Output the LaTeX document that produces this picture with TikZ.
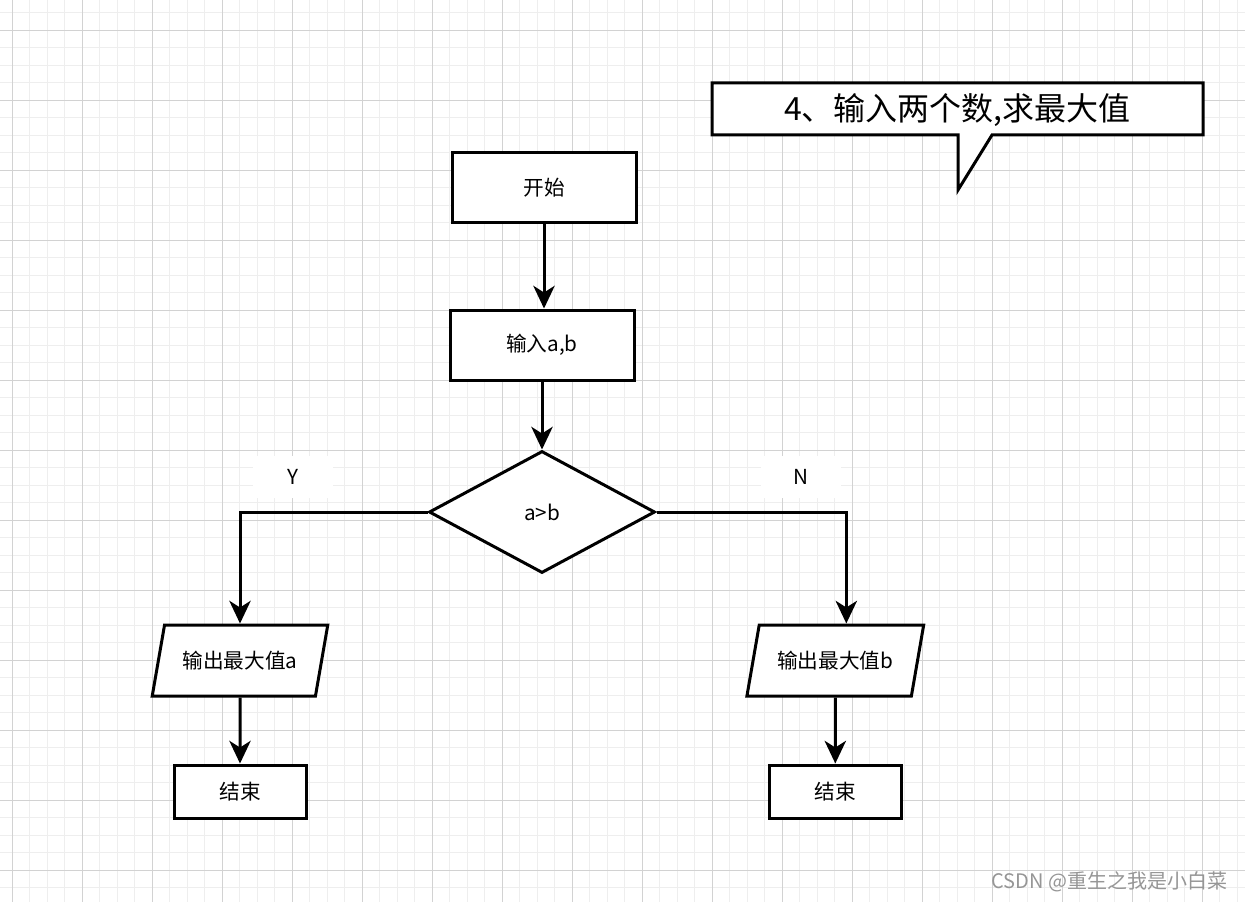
\documentclass[tikz,border=0pt]{standalone}
\usepackage{fontspec}
\setmainfont{Noto Sans CJK SC}
\usetikzlibrary{shapes.geometric,arrows.meta}

\definecolor{gridmajor}{RGB}{210,210,210}
\definecolor{gridminor}{RGB}{238,238,238}
\definecolor{markgray}{RGB}{150,150,150}

\tikzset{
  box/.style={draw, line width=2.25pt, fill=white, inner sep=0pt,
    font=\fontsize{15.5}{18}\selectfont},
  iobox/.style={box, trapezium, trapezium left angle=63.8,
    trapezium right angle=116.2, trapezium stretches=true,
    minimum width=132.75pt, minimum height=53.25pt},
  decide/.style={box, diamond, minimum width=169.5pt, minimum height=91.5pt},
  flow/.style={line width=2.25pt, -{Stealth[length=17pt,width=16pt,inset=5pt]}},
  branch/.style={fill=white, inner sep=0pt, minimum width=60pt, minimum height=32pt,
    font=\fontsize{15.5}{18}\selectfont},
}

\begin{document}
\begin{tikzpicture}[x=0.75pt,y=-0.75pt]
  \useasboundingbox (0,0) rectangle (1245,902);
  \fill[white] (0,0) rectangle (1245,902);

  % grid
  \foreach \i in {0,...,70}
    \draw[gridminor, line width=0.75pt] ({12.3+17.5*\i},0) -- ({12.3+17.5*\i},902);
  \foreach \j in {0,...,50}
    \draw[gridminor, line width=0.75pt] (0,{12.8+17.5*\j}) -- (1245,{12.8+17.5*\j});
  \foreach \i in {0,...,17}
    \draw[gridmajor, line width=0.75pt] ({12.3+70*\i},0) -- ({12.3+70*\i},902);
  \foreach \j in {0,...,12}
    \draw[gridmajor, line width=0.75pt] (0,{30.3+70*\j}) -- (1245,{30.3+70*\j});

  % title callout
  \filldraw[fill=white, line width=2.25pt, line join=miter]
    (712,83) -- (1203,83) -- (1203,135) -- (992,135) -- (958,190)
    -- (958,135) -- (712,135) -- cycle;
  \node[font=\fontsize{24}{28}\selectfont] (title) at (957.5,110) {4、输入两个数,求最大值};

  % flow
  \node[box, minimum width=138pt, minimum height=52.5pt] (start) at (544,188) {开始};
  \node[box, minimum width=138pt, minimum height=52.5pt] (input) at (542,345) {输入a,b};
  \node[decide] (cond) at (542,512) {a>b};
  \node[iobox] (outa) at (240,660.5) {输出最大值a};
  \node[iobox] (outb) at (835.3,660.5) {输出最大值b};
  \node[box, minimum width=99pt, minimum height=39.75pt] (enda) at (240,791.5) {结束};
  \node[box, minimum width=99pt, minimum height=39.75pt] (endb) at (835.3,791.5) {结束};

  \node[branch] (yes) at (293,477) {Y};
  \node[branch] (no) at (801,477) {N};

  \draw[flow] (start) -- (start |- input.north);
  \draw[flow] (input) -- (cond);
  \draw[flow] (cond.west) -| (outa.north);
  \draw[flow] (cond.east) -| ([xshift=8.25pt]outb.north);
  \draw[flow] (outa) -- (enda);
  \draw[flow] (outb) -- (endb);

  % watermark
  \node[anchor=east, text=markgray, font=\fontsize{15}{17}\selectfont] (mark) at (1232,882)
    {CSDN @重生之我是小白菜};
\end{tikzpicture}
\end{document}
